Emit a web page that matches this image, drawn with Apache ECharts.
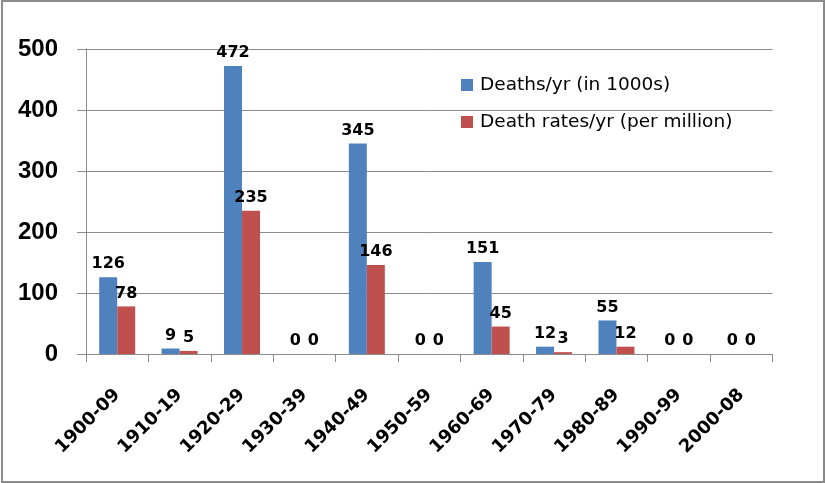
<!DOCTYPE html>
<html>
<head>
<meta charset="utf-8">
<script src="https://cdn.jsdelivr.net/npm/echarts@6/dist/echarts.min.js"></script>
<style>
  html, body { margin: 0; padding: 0; background: #fff; }
  #chart { width: 826px; height: 483px; }
</style>
</head>
<body>
<div id="chart"></div>
<script>
// decades on the category axis
const decades = ["1900-09", "1910-19", "1920-29", "1930-39", "1940-49", "1950-59",
  "1960-69", "1970-79", "1980-89", "1990-99", "2000-08"];
// Deaths/yr (in 1000s)
const deaths = [126, 9, 472, 0, 345, 0, 151, 12, 55, 0, 0];
// Death rates/yr (per million)
const deathRates = [78, 5, 235, 0, 146, 0, 45, 3, 12, 0, 0];
const yTicks = { min: 0, max: 500, interval: 100 };

const gray = "#8c8c8c";

const chart = echarts.init(document.getElementById("chart"));

const barLabel = {
  show: true,
  position: "top",
  distance: 5,
  color: "#000",
  fontFamily: "DejaVu Sans",
  fontWeight: "bold",
  fontSize: 16,
};

chart.setOption({
  animation: false,
  grid: { left: 86, right: 53.5, top: 49, bottom: 129 },
  legend: {
    orient: "vertical",
    left: 456,
    top: 70,
    itemWidth: 12,
    itemHeight: 12,
    itemGap: 17,
    icon: "rect",
    textStyle: {
      fontFamily: "DejaVu Sans",
      fontSize: 18.5,
      color: "#000",
      lineHeight: 20,
      padding: [0, 0, 0, 2],
    },
    data: ["Deaths/yr (in 1000s)", "Death rates/yr (per million)"],
  },
  graphic: [
    {
      type: "rect",
      shape: { x: 2, y: 1, width: 822, height: 481 },
      style: { fill: "none", stroke: gray, lineWidth: 2 },
      silent: true,
    },
  ],
  xAxis: {
    type: "category",
    data: decades,
    axisLine: { show: true, lineStyle: { color: gray, width: 1 } },
    axisTick: { show: true, length: 8, lineStyle: { color: gray } },
    axisLabel: {
      rotate: 45,
      margin: 38,
      interval: 0,
      color: "#000",
      fontFamily: "DejaVu Sans",
      fontWeight: "bold",
      fontSize: 18,
    },
  },
  yAxis: {
    type: "value",
    min: yTicks.min,
    max: yTicks.max,
    interval: yTicks.interval,
    axisLine: { show: true, lineStyle: { color: gray, width: 1 } },
    axisTick: { show: true, length: 9, lineStyle: { color: gray } },
    splitLine: { lineStyle: { color: gray, width: 1 } },
    axisLabel: {
      margin: 28,
      color: "#000",
      fontFamily: "Liberation Sans",
      fontWeight: "bold",
      fontSize: 24,
    },
  },
  series: [
    {
      name: "Deaths/yr (in 1000s)",
      type: "bar",
      data: deaths,
      barWidth: 18,
      barGap: "0%",
      itemStyle: { color: "#4f81bd" },
      label: barLabel,
    },
    {
      name: "Death rates/yr (per million)",
      type: "bar",
      data: deathRates,
      barWidth: 18,
      barGap: "0%",
      itemStyle: { color: "#c0504d" },
      label: barLabel,
    },
  ],
});
</script>
</body>
</html>
